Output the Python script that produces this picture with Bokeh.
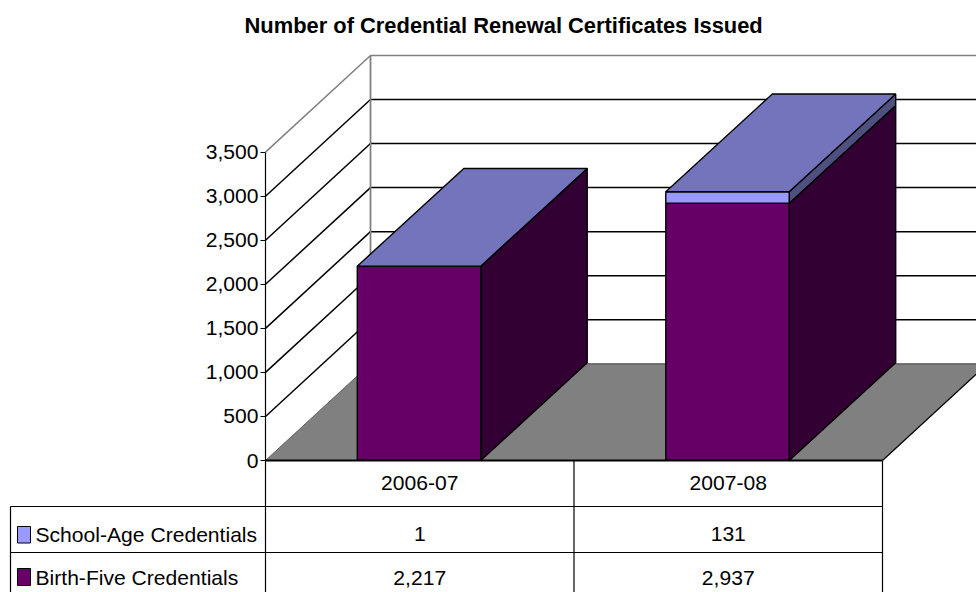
from bokeh.plotting import figure
from bokeh.models import LinearAxis, FixedTicker, NumeralTickFormatter, Range1d, ColumnDataSource
from bokeh.core.properties import value
from bokeh.embed import file_html
from bokeh.resources import INLINE

title = "Number of Credential Renewal Certificates Issued"
categories = ["2006-07", "2007-08"]
school_age = [1, 131]
birth_five = [2217, 2937]
series_names = ["School-Age Credentials", "Birth-Five Credentials"]
y_ticks = [0, 500, 1000, 1500, 2000, 2500, 3000, 3500]

FONT = "Liberation Sans"
W, H = 976, 592
FRAME_TOP = 40
K = 0.0881             # pixels per credential on the value axis
Y0_PAGE = 460          # page y of value zero
X0, CAT_W = 265, 308.5 # left of plot, width of one category
DX, DY = 105, 96.7 / K # depth of the 3D box (x pixels, y in values)
BDX, BDY = 106.5, 97.7 / K
BAR_W = CAT_W * 0.4
BAR_SHIFT = -0.75
BAR_K = 0.9945         # the bars in the source render slightly short of the axis scale

def v(page_y):
    return (Y0_PAGE - page_y) / K

x_end = X0 + 2 * CAT_W

p = figure(width=W, height=H, output_backend="svg", toolbar_location=None,
           x_range=Range1d(0, W), y_range=Range1d(v(H), v(FRAME_TOP)),
           x_axis_location=None, y_axis_location=None,
           min_border=0, min_border_top=FRAME_TOP, outline_line_color=None, background_fill_color="white")
p.grid.visible = False
p.title.text = title
p.title.text_font = FONT
p.title.text_font_size = "21.9px"
p.title.text_font_style = "bold"
p.title.text_color = "black"
p.title.align = "left"
p.title.offset = 244
p.title.standoff = 6

# walls: depth gridlines and back-wall gridlines
top_tick = y_ticks[-1]
for t in y_ticks[1:]:
    col = "#808080" if t == top_tick else "black"
    p.line([X0, X0 + DX], [t, t + DY], line_color=col, line_width=1.5)
    p.line([X0 + DX, x_end + DX], [t + DY, t + DY], line_color=col, line_width=1.5)
p.line([X0 + DX, X0 + DX], [DY, top_tick + DY], line_color="#808080", line_width=1.8)

# floor
p.patch([X0, x_end, x_end + DX, X0 + DX], [0, 0, DY, DY], fill_color="#808080", line_color=None)
p.line([X0 + DX, x_end + DX], [DY, DY], line_color="#555555", line_width=1.2)
p.line([x_end, x_end + DX], [0, DY], line_color="black", line_width=1.2)
p.line([X0, X0 + DX], [0, DY], line_color="#606060", line_width=1)

# stacked 3D bars
STYLE = {"birth": ("#660066", "#330033", "#4d004d"), "school": ("#9999FF", "#4F4F80", "#7474BC")}
for i in range(len(categories)):
    cx = X0 + CAT_W * (i + 0.5) + BAR_SHIFT
    l, r = cx - BAR_W / 2, cx + BAR_W / 2
    base = 0
    for key, val in (("birth", birth_five[i]), ("school", school_age[i])):
        top = base + val * BAR_K
        front, side, cap = STYLE[key]
        p.patch([r, r + BDX, r + BDX, r], [base, base + BDY, top + BDY, top],
                fill_color=side, line_color="black", line_width=1.4)
        p.patch([l, r, r, l], [base, base, top, top],
                fill_color=front, line_color="black", line_width=1.4)
        base = top
    p.patch([l, r, r + BDX, l + BDX], [base, base, base + BDY, base + BDY],
            fill_color=STYLE["school"][2], line_color="black", line_width=1.4)

# data table
row1, row2, row3 = v(506), v(552), v(598)
xs_col = [X0 + CAT_W * j for j in range(len(categories) + 1)]
p.quad(left=[10], right=[x_end], top=[row1], bottom=[row3], fill_color="white", line_color=None)
p.quad(left=[X0], right=[x_end], top=[0], bottom=[row1], fill_color="white", line_color=None)
p.line([X0, x_end], [0, 0], line_color="black", line_width=2.2)
for r_y in (row1, row2):
    p.line([10, x_end], [r_y, r_y], line_color="black", line_width=1.2)
p.line([10, 10], [row1, row3], line_color="black", line_width=1.2)
for x in xs_col:
    p.line([x, x], [0, row3], line_color="black", line_width=1.2)

def tx(xs, ys, texts, align="center"):
    src = ColumnDataSource(dict(x=xs, y=ys, t=texts))
    p.text("x", "y", "t", source=src, text_font=value(FONT), text_font_size="21.1px",
           text_color="black", text_align=align, text_baseline="middle")

centers = [X0 + CAT_W * (i + 0.5) for i in range(len(categories))]
tx(centers, [v(482)] * 2, categories)
tx(centers, [v(533)] * 2, [f"{n:,}" for n in school_age])
tx(centers, [v(577)] * 2, [f"{n:,}" for n in birth_five])
tx([35, 35], [v(534), v(577)], series_names, align="left")

# legend keys
p.quad(left=[17, 17], right=[30, 30], top=[v(526), v(568)], bottom=[v(542.5), v(585)],
       fill_color=["#9999FF", "#660066"], line_color="black", line_width=1)

# value axis
ax = LinearAxis(ticker=FixedTicker(ticks=y_ticks), formatter=NumeralTickFormatter(format="0,0"),
                bounds=(0, top_tick), fixed_location=X0)
ax.major_label_text_font = FONT
ax.major_label_text_font_size = "21.1px"
ax.major_label_text_color = "black"
ax.major_label_standoff = 2
ax.major_tick_in = 0
ax.major_tick_out = 5
ax.major_tick_line_color = "black"
ax.minor_tick_line_color = None
ax.axis_line_color = "black"
ax.axis_line_width = 1.2
p.add_layout(ax, "left")

open("out.html", "w").write(file_html(p, INLINE))
